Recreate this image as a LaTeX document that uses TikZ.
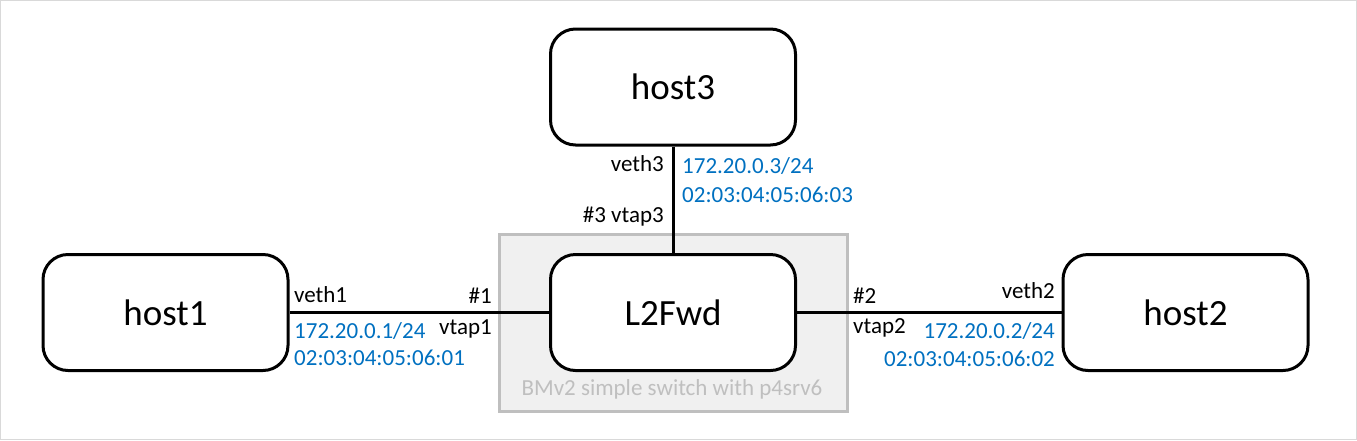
\documentclass[tikz,border=0pt]{standalone}
\usepackage{fontspec}
\setmainfont{Carlito}
\definecolor{ipblue}{HTML}{0070C0}
\definecolor{swfill}{HTML}{F0F0F0}
\definecolor{swline}{HTML}{BFBFBF}
\definecolor{frame}{HTML}{D9D9D9}
\tikzset{
  hostbox/.style={draw=black, line width=3pt, rounded corners=25pt, fill=white,
    minimum width=245pt, minimum height=116pt, inner sep=0pt},
  bigtext/.style={font=\fontsize{37}{44}\selectfont, inner sep=0pt},
  lbl/.style={font=\fontsize{23}{28}\selectfont, inner sep=0pt},
  ip/.style={lbl, text=ipblue},
  link/.style={line width=3pt}
}
\begin{document}
\begin{tikzpicture}[x=1pt,y=-1pt]
\useasboundingbox (0,0) rectangle (1357,440);
\draw[frame, line width=1pt] (0.5,0.5) rectangle (1356.5,439.5);
% switch enclosure
\node[draw=swline, fill=swfill, line width=3pt, minimum width=348pt, minimum height=177pt, inner sep=0pt] (sw) at (673,322.5) {};
\node[lbl, text=swline, anchor=base] (swlbl) at (672,395) {BMv2 simple switch with p4srv6};
% boxes
\node[hostbox] (host3) at (673,87) {};
\node[hostbox] (l2fwd) at (673,312.5) {};
\node[hostbox] (host1) at (165.5,312.5) {};
\node[hostbox] (host2) at (1185.5,312.5) {};
\node[bigtext, anchor=base] (t3) at (673,99.5) {host3};
\node[bigtext, anchor=base] (tl2) at (673,325) {L2Fwd};
\node[bigtext, anchor=base] (t1) at (165.5,325) {host1};
\node[bigtext, anchor=base] (t2) at (1185.5,325) {host2};
% links
\draw[link] (host1.east) -- (l2fwd.west);
\draw[link] (l2fwd.east) -- (host2.west);
\draw[link] (host3.south) -- (l2fwd.north);
% host1 side labels
\node[lbl, anchor=base west] (veth1) at (294,302) {veth1};
\node[lbl, anchor=base east] (p1) at (492,303) {\#1};
\node[lbl, anchor=base east] (vtap1) at (492,334) {vtap1};
\node[ip, anchor=base west] (ip1) at (294,338) {172.20.0.1/24};
\node[ip, anchor=base west] (mac1) at (294,365) {02:03:04:05:06:01};
% host2 side labels
\node[lbl, anchor=base west] (p2) at (853,303) {\#2};
\node[lbl, anchor=base west] (vtap2) at (853,333) {vtap2};
\node[lbl, anchor=base east] (veth2) at (1055,298) {veth2};
\node[ip, anchor=base east] (ip2) at (1055,338) {172.20.0.2/24};
\node[ip, anchor=base east] (mac2) at (1055,366) {02:03:04:05:06:02};
% host3 side labels
\node[lbl, anchor=base east] (veth3) at (664,171) {veth3};
\node[lbl, anchor=base east] (vtap3) at (664,222) {\#3 vtap3};
\node[ip, anchor=base west] (ip3) at (682,173) {172.20.0.3/24};
\node[ip, anchor=base west] (mac3) at (682,202) {02:03:04:05:06:03};
\end{tikzpicture}
\end{document}
